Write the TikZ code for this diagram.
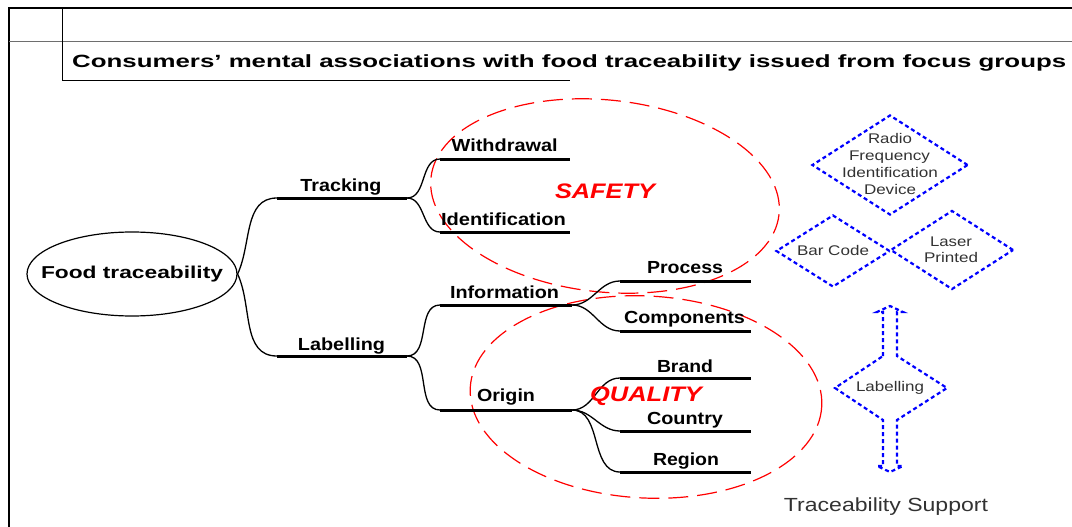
\documentclass[tikz,border=0pt]{standalone}
\usepackage{fontspec}
\setmainfont{Liberation Sans}
\usetikzlibrary{shapes.geometric}
\newcommand\fw[2]{\resizebox{#1pt}{\height}{#2}}
\definecolor{dtext}{RGB}{50,50,50}
\definecolor{frameg}{RGB}{110,110,110}
\begin{document}
\begin{tikzpicture}[x=1pt,y=-1pt,
  thickl/.style={line width=3pt},
  branch/.style={line width=1.3pt},
  lbl/.style={anchor=base,inner sep=0pt,font=\fontsize{17.5}{20}\selectfont\bfseries},
  dlbl/.style={anchor=base,inner sep=0pt,text=dtext,font=\fontsize{14}{17}\selectfont},
  redell/.style={draw=red,line width=1.2pt,dash pattern=on 20pt off 9pt},
  redtxt/.style={anchor=base,inner sep=0pt,text=red,font=\fontsize{21}{24}\selectfont\bfseries\itshape},
  bdiam/.style={shape=diamond,draw=blue,line width=2.2pt,dash pattern=on 4pt off 3pt,inner sep=0pt},
  bluedash/.style={draw=blue,line width=2.2pt,dash pattern=on 4pt off 3pt}]
\useasboundingbox (0,0) rectangle (1072,527);
% frame
\draw[line width=1.4pt] (9,527) -- (9,8) -- (1072,8);
\draw[frameg,line width=1pt] (9,42) -- (1072,42);
\draw[line width=1pt] (62,8) -- (62,81) -- (570,81);
\node[anchor=base west,inner sep=0pt,font=\fontsize{17.7}{20}\selectfont\bfseries] (title) at (72,67.7)
  {\fw{994}{Consumers’ mental associations with food traceability issued from focus groups}};
% red ellipses (behind)
\draw[redell,rotate around={-6:(605,196)}] (605,196) ellipse [x radius=175, y radius=96];
\draw[redell,rotate around={-3:(646,397)}] (646,397) ellipse [x radius=176, y radius=101];
% root
\node[draw,ellipse,line width=1.2pt,minimum width=210pt,minimum height=84pt,inner sep=0pt] (root) at (132,274) {};
\node[inner sep=0pt,font=\fontsize{17.2}{20}\selectfont\bfseries] (roottxt) at (root.center) {\fw{182}{Food traceability}};
% branch line coordinates
\coordinate (trA) at (277,198); \coordinate (trB) at (407,198);
\coordinate (laA) at (277,356); \coordinate (laB) at (407,356);
\coordinate (wiA) at (440,159); \coordinate (wiB) at (570,159);
\coordinate (idA) at (440,232); \coordinate (idB) at (570,232);
\coordinate (inA) at (440,305); \coordinate (inB) at (572,305);
\coordinate (orA) at (440,410); \coordinate (orB) at (572,410);
\coordinate (prA) at (620,281); \coordinate (prB) at (751,281);
\coordinate (coA) at (620,331); \coordinate (coB) at (751,331);
\coordinate (brA) at (620,378); \coordinate (brB) at (751,378);
\coordinate (cuA) at (620,431); \coordinate (cuB) at (751,431);
\coordinate (reA) at (620,472); \coordinate (reB) at (751,472);
\foreach \p in {tr,la,wi,id,in,or,pr,co,br,cu,re}{\draw[thickl] (\p A) -- (\p B);}
% connectors
\draw[branch] (root.east) to[out=65,in=180] (trA);
\draw[branch] (root.east) to[out=-65,in=180] (laA);
\draw[branch] (trB) to[out=0,in=180] (wiA);
\draw[branch] (trB) to[out=0,in=180] (idA);
\draw[branch] (laB) to[out=0,in=180] (inA);
\draw[branch] (laB) to[out=0,in=180] (orA);
\draw[branch] (inB) to[out=0,in=180] (prA);
\draw[branch] (inB) to[out=0,in=180] (coA);
\draw[branch] (orB) to[out=0,in=180] (brA);
\draw[branch] (orB) to[out=0,in=180] (cuA);
\draw[branch] (orB) to[out=0,in=180] (reA);
% labels
\node[lbl] (ltr) at (341,191.7) {\fw{81}{Tracking}};
\node[lbl] (lwi) at (504.7,151.7) {\fw{106}{Withdrawal}};
\node[lbl] (lid) at (503.5,225.7) {\fw{125}{Identification}};
\node[lbl] (lla) at (341.5,350) {\fw{87}{Labelling}};
\node[lbl] (lin) at (504.5,298) {\fw{109}{Information}};
\node[lbl] (lor) at (506,401.7) {\fw{58}{Origin}};
\node[lbl] (lpr) at (685,273) {\fw{76}{Process}};
\node[lbl] (lco) at (684.5,323) {\fw{121}{Components}};
\node[lbl] (lbr) at (685,372) {\fw{56}{Brand}};
\node[lbl] (lcu) at (685,424) {\fw{76}{Country}};
\node[lbl] (lre) at (686,465) {\fw{66}{Region}};
\node[redtxt] (safety) at (605,198) {\fw{100}{SAFETY}};
\node[redtxt] (quality) at (646,401.7) {\fw{112}{QUALITY}};
% support diamonds
\node[bdiam,minimum width=156pt,minimum height=100pt] (rfid) at (890,165) {};
\node[bdiam,minimum width=114pt,minimum height=72pt] (bar) at (833,251) {};
\node[bdiam,minimum width=123pt,minimum height=79pt] (laser) at (952,250) {};
\node[dlbl] (t1) at (890,143) {\fw{44}{Radio}};
\node[dlbl] (t2) at (889.5,160) {\fw{81}{Frequency}};
\node[dlbl] (t3) at (890,177) {\fw{96}{Identification}};
\node[dlbl] (t4) at (890,194) {\fw{52}{Device}};
\node[dlbl] (tbar) at (833,255.7) {\fw{72}{Bar Code}};
\node[dlbl] (tla1) at (951,246) {\fw{42}{Laser}};
\node[dlbl] (tla2) at (951,262) {\fw{54}{Printed}};
% labelling double arrow
\draw[bluedash] (883,356) -- (883,312) -- (877,312) -- (890,306) -- (903,312) -- (897,312)
  -- (897,356) -- (947,388) -- (897,420) -- (897,466) -- (903,466) -- (890,472) -- (877,466)
  -- (883,466) -- (883,420) -- (835,388) -- cycle;
\node[dlbl] (tlab) at (890,391.7) {\fw{68}{Labelling}};
\node[anchor=base,inner sep=0pt,text=dtext,font=\fontsize{19}{22}\selectfont] (sup) at (886,511.7)
  {\fw{204}{Traceability Support}};
\end{tikzpicture}
\end{document}
